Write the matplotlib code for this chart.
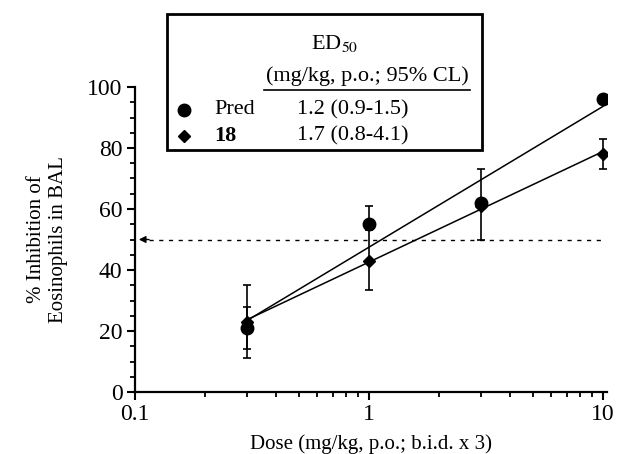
import numpy as np
import matplotlib
matplotlib.use("Agg")
import matplotlib.pyplot as plt
from matplotlib.patches import Rectangle
from matplotlib.lines import Line2D
from matplotlib.ticker import MultipleLocator, FixedLocator, NullFormatter

plt.rcParams['font.family'] = ['Liberation Serif', 'DejaVu Serif']
plt.rcParams['mathtext.fontset'] = 'stix'

# data
dose = [0.3, 1, 3, 10]
pred_y = [21, 55, 62, 96]
pred_lo = [7, 2, 0, 0]
pred_hi = [7, 6, 0, 0]
cpd18_y = [23, 43, 61, 78]
cpd18_lo = [12, 9.5, 11, 5]
cpd18_hi = [12, 11, 12, 5]
ed50_level = 50
legend_rows = [("Pred", "1.2 (0.9-1.5)"), ("18", "1.7 (0.8-4.1)")]

fig = plt.figure(figsize=(6.18, 4.54), dpi=100)
ax = fig.add_axes([135/618, 1-392/454, (607-135)/618, (392-87)/454])
ax.set_xscale('log')
ax.set_xlim(0.1, 10.4)
ax.set_ylim(0, 100)

# error bars
ax.errorbar(dose, cpd18_y, yerr=[cpd18_lo, cpd18_hi], fmt='none', ecolor='k',
            elinewidth=1.2, capsize=3, capthick=1.2, zorder=2)
ax.errorbar(dose, pred_y, yerr=[pred_lo, pred_hi], fmt='none', ecolor='k',
            elinewidth=1.2, capsize=3, capthick=1.2, zorder=2)

# log-linear fits
xx = np.array([dose[0], dose[-1]])
for yy in (pred_y, cpd18_y):
    p = np.polyfit(np.log10(dose), yy, 1)
    ax.plot(xx, np.polyval(p, np.log10(xx)), color='k', lw=1.1, zorder=3)

ax.plot(dose, pred_y, 'o', color='k', ms=9, zorder=4)
ax.plot(dose, cpd18_y, 'D', color='k', ms=6, zorder=4)

# ED50 reference line with arrow
ax.plot([0.115, 10], [ed50_level, ed50_level], color='k', lw=1, ls=(0, (3, 4)), zorder=1)
ax.annotate('', xy=(0.101, ed50_level), xytext=(0.118, ed50_level),
            arrowprops=dict(arrowstyle='-|>', color='k', lw=1, mutation_scale=10))

for s in ('top', 'right'):
    ax.spines[s].set_visible(False)
for s in ('left', 'bottom'):
    ax.spines[s].set_linewidth(1.6)

ax.yaxis.set_major_locator(MultipleLocator(20))
ax.yaxis.set_minor_locator(MultipleLocator(5))
ax.xaxis.set_major_locator(FixedLocator([0.1, 1, 10]))
ax.xaxis.set_major_formatter(plt.FuncFormatter(lambda v, _: '%g' % v))
ax.xaxis.set_minor_formatter(NullFormatter())
ax.tick_params(which='major', direction='out', length=6, width=1.5, labelsize=17, pad=3)
ax.tick_params(which='minor', direction='out', length=3.5, width=1.3)

ax.set_xlabel('Dose (mg/kg, p.o.; b.i.d. x 3)', fontsize=15, labelpad=6)
ax.set_ylabel('% Inhibition of\nEosinophils in BAL', fontsize=15, labelpad=14)

# legend box drawn in figure pixels
W, H = 618, 454
def fx(px): return px / W
def fy(py): return 1 - py / H

fig.patches.append(Rectangle((fx(167), fy(150)), fx(482) - fx(167), fy(14) - fy(150),
                             transform=fig.transFigure, fill=True, fc='white', lw=2,
                             ec='k', zorder=5))
fig.text(fx(335), fy(44), r'ED$_{50}$', fontsize=16, ha='center', va='center', zorder=6)
fig.text(fx(367), fy(76), '(mg/kg, p.o.; 95% CL)', fontsize=16, ha='center', va='center',
         zorder=6)
fig.add_artist(Line2D([fx(264), fx(470)], [fy(90), fy(90)], transform=fig.transFigure,
                      color='k', lw=1.2, zorder=6))
row_y = [110, 136]
fig.add_artist(Line2D([fx(184)], [fy(row_y[0])], transform=fig.transFigure,
                      marker='o', ms=9, color='k', ls='none', zorder=6))
fig.add_artist(Line2D([fx(184)], [fy(row_y[1])], transform=fig.transFigure,
                      marker='D', ms=6, color='k', ls='none', zorder=6))
for (name, val), py in zip(legend_rows, row_y):
    fig.text(fx(214), fy(py), name, fontsize=16, ha='left', va='center', zorder=6,
             fontweight='bold' if name == '18' else 'normal')
    fig.text(fx(297), fy(py), val, fontsize=16, ha='left', va='center', zorder=6)

fig.savefig('out.png', dpi=100)
